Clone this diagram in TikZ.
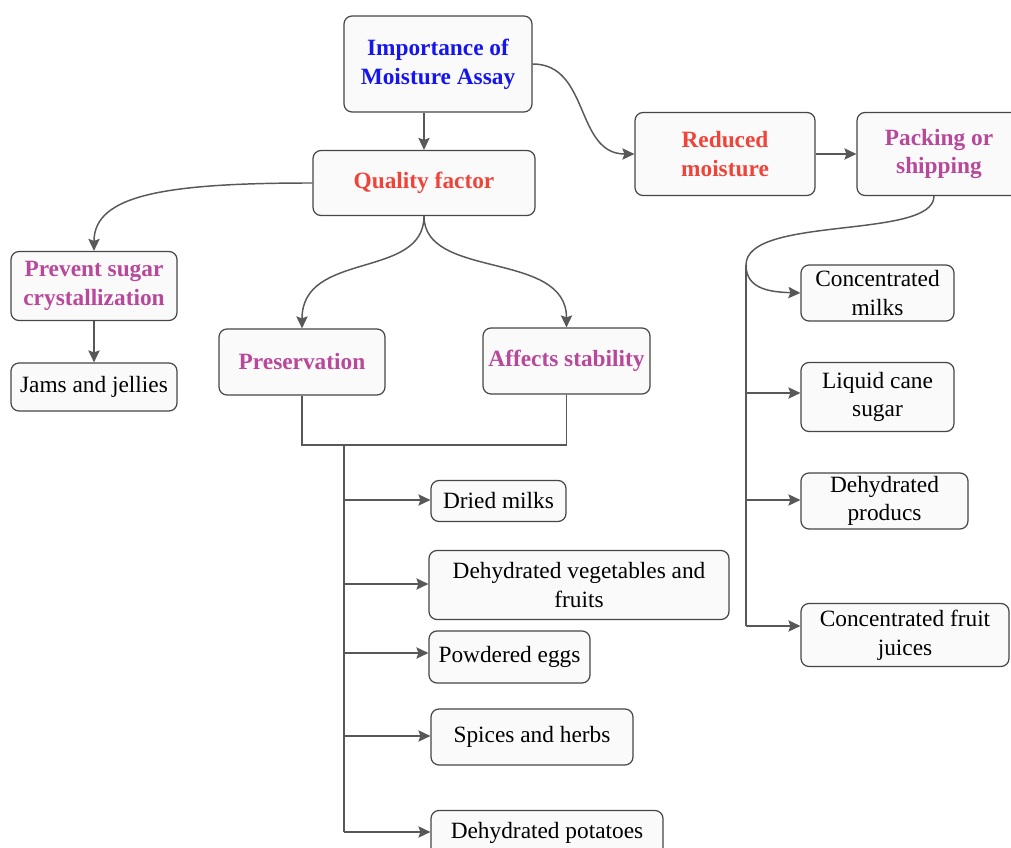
\documentclass[tikz,border=0pt]{standalone}
\usepackage{fontspec}
\setmainfont{Liberation Serif}
\usetikzlibrary{arrows.meta}
\definecolor{edge}{RGB}{88,88,88}
\definecolor{frame}{RGB}{70,70,70}
\definecolor{boxfill}{RGB}{250,250,250}
\definecolor{blueT}{RGB}{22,22,236}
\definecolor{redT}{RGB}{238,68,58}
\definecolor{pinkT}{RGB}{184,72,154}
\tikzset{
  box/.style={draw=frame, fill=boxfill, rounded corners=6pt, line width=0.9pt,
    align=center, inner sep=0pt, font=\fontsize{17.5pt}{21.5pt}\selectfont},
  head/.style={box, font=\fontsize{17.5pt}{21.5pt}\selectfont\bfseries},
  sz/.style 2 args={minimum width={#1*0.75pt}, minimum height={#2*0.75pt}},
  link/.style={draw=edge, line width=1.1pt, -{Stealth[length=9pt,width=8.5pt,inset=1.5pt]}},
  plain/.style={draw=edge, line width=1.1pt},
}
\begin{document}
\begin{tikzpicture}[x=0.75pt,y=-0.75pt]
\useasboundingbox (0,0) rectangle (1011,848);
\fill[white] (0,0) rectangle (1011,848);

% main nodes
\node[head, sz={188}{96}, text=blueT] (imp) at (438,64) {Importance of\\Moisture Assay};
\node[head, sz={222}{65}, text=redT] (qf) at (424,183) {Quality factor};
\node[head, sz={180}{83}, text=redT] (rm) at (725,154) {Reduced\\moisture};
\node[head, sz={164}{83}, text=pinkT] (pk) at (939,154) {Packing or\\shipping};
\node[head, sz={166}{69}, text=pinkT] (ps) at (94,286) {Prevent sugar\\crystallization};
\node[box, sz={166}{48}] (jj) at (94,387) {Jams and jellies};
\node[head, sz={166}{66}, text=pinkT] (pres) at (302,362) {Preservation};
\node[head, sz={167}{66}, text=pinkT] (aff) at (566.5,361) {Affects stability};

% products under preservation / stability
\node[box, sz={135}{41}] (dm) at (498.5,501) {Dried milks};
\node[box, sz={300}{69}] (dv) at (579,585) {Dehydrated vegetables and\\fruits};
\node[box, sz={161}{52}] (pe) at (509.5,657) {Powdered eggs};
\node[box, sz={202}{56}] (sh) at (532,737) {Spices and herbs};
\node[box, sz={232}{45}] (dp) at (547,833) {Dehydrated potatoes};

% products under packing
\node[box, sz={153}{56}] (cm) at (877.5,293) {Concentrated\\milks};
\node[box, sz={153}{69}] (lc) at (877.5,397) {Liquid cane\\sugar};
\node[box, sz={167}{56}] (dpr) at (884.5,501) {Dehydrated\\producs};
\node[box, sz={208}{63}] (cfj) at (905,635) {Concentrated fruit\\juices};

% connectors from the title
\draw[link] (qf.north |- imp.south) -- (qf.north);
\draw[link] (imp.east) .. controls (590,64) and (575,154) .. (rm.west);
\draw[link] (rm) -- (pk);

% quality factor branches
\draw[link] (qf.west) .. controls (165,183) and (94,195) .. (ps.north);
\draw[link] (ps) -- (jj);
\draw[link] (qf.south) .. controls (424,280) and (302,250) .. (pres.north);
\draw[link] (qf.south) .. controls (424,280) and (566.5,250) .. (aff.north);

% bracket and trunk on the left
\coordinate (bar) at (344,445);
\coordinate (lEnd) at (344,832);
\draw[plain] (pres.south) |- (bar) -| (aff.south);
\draw[plain] (bar) -- (lEnd);
\coordinate (l1) at (344,500);
\coordinate (l2) at (344,584);
\coordinate (l3) at (344,653);
\coordinate (l4) at (344,736);
\draw[link] (l1) -- (l1 -| dm.west);
\draw[link] (l2) -- (l2 -| dv.west);
\draw[link] (l3) -- (l3 -| pe.west);
\draw[link] (l4) -- (l4 -| sh.west);
\draw[link] (lEnd) -- (lEnd -| dp.west);

% trunk on the right
\coordinate (rTop) at (746,265);
\coordinate (rEnd) at (746,626);
\draw[link] ([xshift=-3.75pt]pk.south) .. controls (934,240) and (746,215) .. (rTop)
  .. controls (746,290) and (772,292) .. (cm.west);
\draw[plain] (rTop) -- (rEnd);
\coordinate (r2) at (746,393);
\coordinate (r3) at (746,500);
\draw[link] (r2) -- (r2 -| lc.west);
\draw[link] (r3) -- (r3 -| dpr.west);
\draw[link] (rEnd) -- (rEnd -| cfj.west);
\end{tikzpicture}
\end{document}
